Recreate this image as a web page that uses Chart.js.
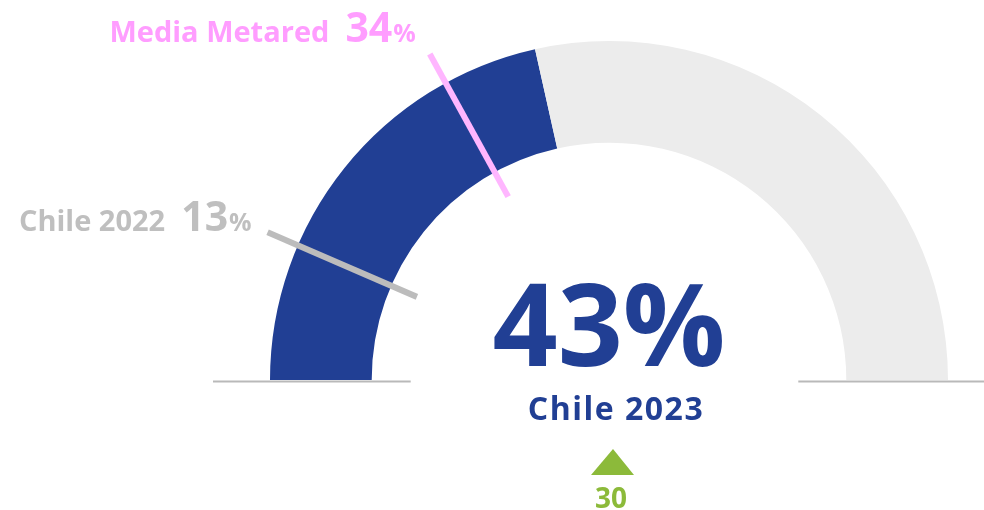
<!DOCTYPE html>
<html>
<head>
<meta charset="utf-8">
<script src="https://cdn.jsdelivr.net/npm/chart.js@4.4.1/dist/chart.umd.min.js"></script>
<style>
html,body{margin:0;padding:0;background:#fff;}
#wrap{position:relative;width:984px;height:510px;}
</style>
</head>
<body>
<div id="wrap"><canvas id="c" width="984" height="510"></canvas></div>
<script>
const categories = ['Chile 2023', 'Resto'];
const values = [43, 57];
const markerLabels = ['Chile 2022', 'Media Metared'];
const markerValues = [13, 34];
const deltaValue = 30;

const BLUE = '#213f94';
const FONT = '"Open Sans", "Noto Sans", sans-serif';

const gaugePlugin = {
  id: 'gauge',
  afterDraw(chart) {
    const ctx = chart.ctx;
    const arc = chart.getDatasetMeta(0).data[0];
    const cx = arc.x, cy = arc.y, R = arc.outerRadius, r = arc.innerRadius;
    ctx.save();
    // base lines
    ctx.strokeStyle = '#b9b9b9';
    ctx.lineWidth = 2;
    ctx.beginPath();
    ctx.moveTo(cx - R - 57, cy + 1.5); ctx.lineTo(cx - r + 39, cy + 1.5);
    ctx.moveTo(cx + r - 48, cy + 1.5); ctx.lineTo(cx + R + 40, cy + 1.5);
    ctx.stroke();

    // markers
    const mColors = ['#bcbcbc', '#ffb6ff'];
    const tColors = ['#bfbfbf', '#ff9dff'];
    const labelOff = [[-16, -1], [-14, -12]];
    markerValues.forEach((v, i) => {
      const th = -Math.PI + v / 100 * Math.PI;
      const x1 = cx + (r - 28) * Math.cos(th), y1 = cy + (r - 28) * Math.sin(th);
      const x2 = cx + (R + 33) * Math.cos(th), y2 = cy + (R + 33) * Math.sin(th);
      ctx.strokeStyle = mColors[i];
      ctx.lineWidth = 6;
      ctx.lineCap = 'butt';
      ctx.beginPath(); ctx.moveTo(x1, y1); ctx.lineTo(x2, y2); ctx.stroke();
      // label
      let xe = x2 + labelOff[i][0];
      const yb = y2 + labelOff[i][1];
      ctx.fillStyle = tColors[i];
      ctx.textBaseline = 'alphabetic';
      ctx.textAlign = 'right';
      ctx.font = 'bold 25px ' + FONT;
      ctx.fillText('%', xe, yb);
      xe -= ctx.measureText('%').width + 1;
      ctx.font = 'bold 41px ' + FONT;
      ctx.fillText(String(v), xe, yb);
      xe -= ctx.measureText(String(v)).width + 16;
      ctx.font = 'bold 29px ' + FONT;
      ctx.fillText(markerLabels[i], xe, yb);
    });

    // center value
    ctx.fillStyle = BLUE;
    ctx.textAlign = 'center';
    ctx.font = 'bold 114px ' + FONT;
    ctx.fillText(values[0] + '%', cx, cy - 14);
    ctx.font = 'bold 32px ' + FONT;
    ctx.letterSpacing = '1.5px';
    ctx.fillText(categories[0], cx + 7, cy + 40);
    ctx.letterSpacing = '0px';

    // delta
    ctx.fillStyle = '#8cba3a';
    ctx.beginPath();
    ctx.moveTo(cx + 4, cy + 69);
    ctx.lineTo(cx + 25, cy + 95);
    ctx.lineTo(cx - 18, cy + 95);
    ctx.closePath();
    ctx.fill();
    ctx.font = 'bold 28px ' + FONT;
    ctx.fillText(String(deltaValue), cx + 2, cy + 128);
    ctx.restore();
  }
};

new Chart(document.getElementById('c'), {
  type: 'doughnut',
  data: {
    labels: categories,
    datasets: [{
      data: values,
      backgroundColor: [BLUE, '#ececec'],
      borderWidth: 0,
      hoverOffset: 0
    }]
  },
  options: {
    responsive: false,
    animation: false,
    rotation: -90,
    circumference: 180,
    cutout: '70%',
    layout: { padding: { left: 270, right: 36, top: 41, bottom: 130 } },
    plugins: { legend: { display: false }, tooltip: { enabled: false } },
    events: []
  },
  plugins: [gaugePlugin]
});
</script>
</body>
</html>
